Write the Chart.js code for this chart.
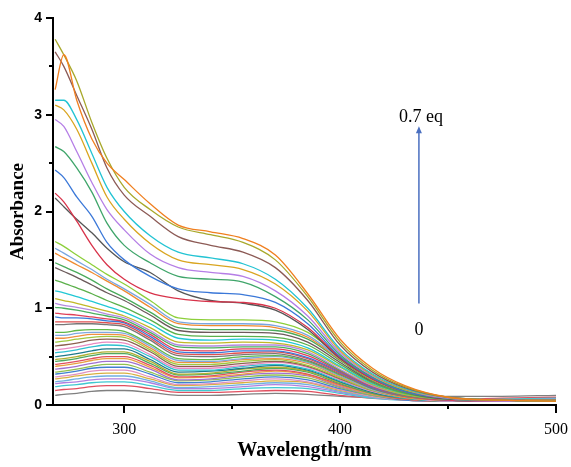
<!DOCTYPE html>
<html lang="en">
<head>
<meta charset="UTF-8">
<title>UV-Vis titration</title>
<script src="https://cdn.jsdelivr.net/npm/chart.js"></script>
<style>
    body { margin: 0; background: #fff; }
    #wrap { width: 571px; height: 467px; }
</style>
</head>
<body>
<div id="wrap"><canvas id="myChart" width="571" height="467"></canvas></div>
<script>
// wavelength grid (nm)
const wavelengths = [268, 272, 278, 285, 292, 300, 312, 325, 340, 355, 370, 385, 400, 415, 430, 450, 475, 500];

// upper spectra, top (0.7 eq) downwards
const upperSpectra = [
    [3.26, 3.62, 3.15, 2.75, 2.50, 2.33, 2.08, 1.86, 1.79, 1.72, 1.55, 1.15, 0.68, 0.38, 0.20, 0.08, 0.05, 0.04],
    [3.78, 3.62, 3.35, 2.92, 2.55, 2.25, 2.02, 1.84, 1.76, 1.68, 1.50, 1.12, 0.65, 0.36, 0.19, 0.08, 0.05, 0.04],
    [3.65, 3.50, 3.20, 2.85, 2.45, 2.17, 1.95, 1.74, 1.65, 1.58, 1.42, 1.08, 0.62, 0.34, 0.18, 0.08, 0.05, 0.04],
    [3.15, 3.15, 2.95, 2.60, 2.25, 2.00, 1.75, 1.58, 1.52, 1.46, 1.30, 1.00, 0.58, 0.32, 0.17, 0.08, 0.05, 0.04],
    [3.10, 3.05, 2.85, 2.50, 2.15, 1.92, 1.67, 1.50, 1.45, 1.40, 1.25, 0.97, 0.56, 0.31, 0.16, 0.08, 0.05, 0.04],
    [2.95, 2.88, 2.62, 2.30, 2.02, 1.81, 1.56, 1.42, 1.37, 1.33, 1.18, 0.92, 0.54, 0.30, 0.16, 0.07, 0.05, 0.04],
    [2.67, 2.62, 2.45, 2.20, 1.88, 1.65, 1.47, 1.33, 1.30, 1.27, 1.12, 0.88, 0.52, 0.29, 0.15, 0.07, 0.05, 0.04],
    [2.43, 2.35, 2.15, 1.95, 1.68, 1.50, 1.33, 1.20, 1.16, 1.14, 1.06, 0.84, 0.50, 0.28, 0.14, 0.07, 0.05, 0.04],
    [2.19, 2.10, 1.90, 1.65, 1.45, 1.30, 1.16, 1.10, 1.07, 1.06, 1.00, 0.80, 0.49, 0.27, 0.14, 0.07, 0.05, 0.04],
    [2.14, 2.05, 1.92, 1.78, 1.62, 1.48, 1.37, 1.18, 1.08, 1.05, 0.98, 0.78, 0.48, 0.27, 0.14, 0.07, 0.05, 0.04]
];

// lower spectra, top downwards to 0 eq
const lowerSpectra = [
    [1.69, 1.64, 1.55, 1.45, 1.35, 1.25, 1.08, 0.90, 0.88, 0.88, 0.86, 0.75, 0.50, 0.28, 0.15, 0.07, 0.05, 0.04],
    [1.62, 1.57, 1.49, 1.40, 1.30, 1.20, 1.04, 0.86, 0.84, 0.84, 0.82, 0.72, 0.48, 0.27, 0.14, 0.07, 0.05, 0.04],
    [1.57, 1.52, 1.45, 1.37, 1.28, 1.18, 1.01, 0.84, 0.82, 0.82, 0.80, 0.70, 0.47, 0.26, 0.14, 0.07, 0.05, 0.05],
    [1.47, 1.43, 1.37, 1.29, 1.20, 1.11, 0.96, 0.80, 0.78, 0.78, 0.77, 0.68, 0.46, 0.25, 0.13, 0.07, 0.05, 0.04],
    [1.42, 1.38, 1.32, 1.24, 1.16, 1.08, 0.93, 0.77, 0.75, 0.75, 0.74, 0.65, 0.44, 0.24, 0.13, 0.06, 0.05, 0.05],
    [1.29, 1.26, 1.21, 1.15, 1.08, 1.01, 0.88, 0.73, 0.71, 0.71, 0.70, 0.62, 0.42, 0.23, 0.12, 0.06, 0.05, 0.04],
    [1.18, 1.16, 1.12, 1.07, 1.02, 0.96, 0.84, 0.69, 0.67, 0.68, 0.67, 0.59, 0.40, 0.22, 0.12, 0.06, 0.05, 0.05],
    [1.10, 1.08, 1.05, 1.01, 0.97, 0.92, 0.80, 0.65, 0.64, 0.65, 0.64, 0.57, 0.39, 0.21, 0.11, 0.06, 0.05, 0.04],
    [1.05, 1.03, 1.01, 0.98, 0.94, 0.90, 0.77, 0.62, 0.61, 0.62, 0.62, 0.55, 0.37, 0.20, 0.11, 0.06, 0.04, 0.04],
    [1.01, 1.00, 0.98, 0.95, 0.92, 0.88, 0.75, 0.60, 0.59, 0.60, 0.60, 0.53, 0.36, 0.20, 0.10, 0.06, 0.05, 0.05],
    [0.95, 0.94, 0.93, 0.91, 0.89, 0.86, 0.73, 0.57, 0.56, 0.58, 0.58, 0.51, 0.35, 0.19, 0.10, 0.05, 0.04, 0.04],
    [0.91, 0.90, 0.90, 0.89, 0.87, 0.85, 0.71, 0.55, 0.54, 0.56, 0.56, 0.49, 0.34, 0.18, 0.10, 0.05, 0.04, 0.04],
    [0.86, 0.86, 0.86, 0.86, 0.85, 0.83, 0.69, 0.53, 0.52, 0.54, 0.55, 0.48, 0.33, 0.18, 0.09, 0.05, 0.04, 0.04],
    [0.83, 0.83, 0.84, 0.84, 0.83, 0.81, 0.67, 0.51, 0.50, 0.52, 0.53, 0.46, 0.32, 0.17, 0.09, 0.05, 0.04, 0.05],
    [0.75, 0.75, 0.77, 0.78, 0.78, 0.76, 0.63, 0.48, 0.47, 0.50, 0.51, 0.45, 0.31, 0.17, 0.09, 0.05, 0.04, 0.04],
    [0.72, 0.72, 0.74, 0.75, 0.75, 0.74, 0.61, 0.46, 0.45, 0.48, 0.50, 0.44, 0.30, 0.16, 0.09, 0.05, 0.04, 0.04],
    [0.69, 0.69, 0.71, 0.73, 0.73, 0.72, 0.59, 0.44, 0.44, 0.47, 0.48, 0.43, 0.29, 0.16, 0.08, 0.05, 0.04, 0.04],
    [0.65, 0.66, 0.68, 0.70, 0.71, 0.70, 0.57, 0.42, 0.42, 0.45, 0.47, 0.41, 0.28, 0.15, 0.08, 0.05, 0.04, 0.04],
    [0.61, 0.62, 0.64, 0.67, 0.68, 0.67, 0.55, 0.40, 0.40, 0.43, 0.45, 0.40, 0.27, 0.15, 0.08, 0.05, 0.04, 0.04],
    [0.57, 0.58, 0.60, 0.63, 0.65, 0.64, 0.52, 0.38, 0.38, 0.41, 0.44, 0.39, 0.26, 0.14, 0.08, 0.04, 0.04, 0.04],
    [0.54, 0.55, 0.57, 0.60, 0.62, 0.61, 0.50, 0.36, 0.36, 0.40, 0.42, 0.37, 0.25, 0.14, 0.07, 0.04, 0.04, 0.05],
    [0.50, 0.51, 0.53, 0.56, 0.58, 0.58, 0.47, 0.34, 0.35, 0.38, 0.41, 0.36, 0.24, 0.13, 0.07, 0.04, 0.04, 0.04],
    [0.47, 0.48, 0.50, 0.53, 0.55, 0.55, 0.45, 0.32, 0.33, 0.37, 0.39, 0.35, 0.23, 0.13, 0.07, 0.04, 0.04, 0.04],
    [0.45, 0.46, 0.48, 0.51, 0.53, 0.53, 0.43, 0.31, 0.32, 0.35, 0.38, 0.34, 0.22, 0.12, 0.07, 0.04, 0.04, 0.04],
    [0.42, 0.43, 0.45, 0.48, 0.50, 0.50, 0.41, 0.29, 0.30, 0.34, 0.36, 0.32, 0.21, 0.12, 0.06, 0.04, 0.04, 0.05],
    [0.40, 0.41, 0.43, 0.46, 0.48, 0.48, 0.39, 0.28, 0.29, 0.32, 0.35, 0.31, 0.20, 0.11, 0.06, 0.04, 0.04, 0.04],
    [0.37, 0.38, 0.40, 0.43, 0.45, 0.45, 0.37, 0.26, 0.27, 0.31, 0.33, 0.30, 0.19, 0.11, 0.06, 0.04, 0.04, 0.04],
    [0.34, 0.35, 0.37, 0.40, 0.42, 0.42, 0.34, 0.25, 0.26, 0.29, 0.31, 0.28, 0.18, 0.10, 0.06, 0.04, 0.04, 0.05],
    [0.32, 0.33, 0.35, 0.38, 0.39, 0.39, 0.32, 0.23, 0.24, 0.27, 0.29, 0.26, 0.17, 0.10, 0.05, 0.04, 0.04, 0.04],
    [0.29, 0.30, 0.32, 0.35, 0.36, 0.36, 0.29, 0.21, 0.22, 0.25, 0.27, 0.24, 0.16, 0.09, 0.05, 0.04, 0.04, 0.04],
    [0.27, 0.28, 0.30, 0.32, 0.33, 0.33, 0.27, 0.20, 0.21, 0.23, 0.25, 0.23, 0.15, 0.09, 0.05, 0.04, 0.04, 0.05],
    [0.24, 0.25, 0.27, 0.29, 0.30, 0.30, 0.25, 0.18, 0.19, 0.21, 0.23, 0.21, 0.14, 0.08, 0.05, 0.04, 0.04, 0.05],
    [0.22, 0.23, 0.24, 0.26, 0.27, 0.27, 0.23, 0.17, 0.17, 0.19, 0.21, 0.19, 0.13, 0.08, 0.05, 0.04, 0.05, 0.06],
    [0.19, 0.20, 0.21, 0.23, 0.24, 0.24, 0.20, 0.15, 0.15, 0.17, 0.18, 0.17, 0.12, 0.07, 0.05, 0.05, 0.06, 0.07],
    [0.15, 0.16, 0.17, 0.19, 0.20, 0.20, 0.17, 0.13, 0.13, 0.14, 0.15, 0.14, 0.10, 0.07, 0.06, 0.06, 0.07, 0.08],
    [0.10, 0.11, 0.12, 0.14, 0.15, 0.15, 0.13, 0.10, 0.10, 0.11, 0.12, 0.11, 0.09, 0.08, 0.08, 0.09, 0.09, 0.10]
];

const upperColors = ['#f07f1f', '#a8a82a', '#8c5a55', '#22c3d3', '#d9a520', '#b57ee6', '#3fa56a', '#3b78d8', '#d8334a', '#555555'];
const lowerColors = ['#8ccf3a', '#7aa6e0', '#f08a30', '#4aaa5a', '#6b5a5a', '#5bb04a', '#22c8d5', '#c2b828', '#b48ae0',
    '#4bb060', '#e0405a', '#3a7ad8', '#e05050', '#777777', '#60b848', '#80a8e0', '#f09040', '#a0c840', '#8c6050',
    '#e88ac0', '#30c0d0', '#1f7a8c', '#b0b030', '#50a860', '#e05060', '#e8a040', '#a070d0', '#90c050', '#4080d0',
    '#e090c0', '#d8b040', '#70b0e0', '#b080e0', '#40c8d0', '#e05060', '#808080'];

const xTickValues = [300, 350, 400, 450, 500];
const yTickValues = [0, 0.5, 1, 1.5, 2, 2.5, 3, 3.5, 4];

function makeSet(values, color) {
    return {
        data: values.map((v, i) => ({ x: wavelengths[i], y: v })),
        borderColor: color,
        borderWidth: 1.3,
        pointRadius: 0,
        fill: false,
        cubicInterpolationMode: 'monotone'
    };
}

const datasets = [];
upperSpectra.forEach((s, i) => datasets.push(makeSet(s, upperColors[i])));
lowerSpectra.forEach((s, i) => datasets.push(makeSet(s, lowerColors[i])));

// tick marks (major/minor) plus the titration arrow
const extras = {
    id: 'extras',
    afterDraw(chart) {
        const { ctx, scales: { x, y } } = chart;
        ctx.save();
        ctx.strokeStyle = '#000';
        ctx.lineWidth = 2;
        x.ticks.forEach(t => {
            const px = Math.round(x.getPixelForValue(t.value));
            const len = t.value % 100 === 0 ? 8 : 4;
            ctx.beginPath(); ctx.moveTo(px, y.bottom); ctx.lineTo(px, y.bottom + len); ctx.stroke();
        });
        y.ticks.forEach(t => {
            const py = Math.round(y.getPixelForValue(t.value));
            const len = Number.isInteger(t.value) ? 7 : 4;
            ctx.beginPath(); ctx.moveTo(x.left, py); ctx.lineTo(x.left - len, py); ctx.stroke();
        });

        // arrow from 0 to 0.7 eq
        const ax = x.getPixelForValue(436.5);
        const y0 = y.getPixelForValue(1.05);
        const y1 = y.getPixelForValue(2.88);
        ctx.strokeStyle = '#4a6fc0';
        ctx.fillStyle = '#4a6fc0';
        ctx.lineWidth = 1.5;
        ctx.beginPath(); ctx.moveTo(ax, y0); ctx.lineTo(ax, y1 + 5); ctx.stroke();
        ctx.beginPath(); ctx.moveTo(ax, y1); ctx.lineTo(ax - 3, y1 + 7); ctx.lineTo(ax + 3, y1 + 7); ctx.closePath(); ctx.fill();

        ctx.fillStyle = '#000';
        ctx.font = '18px "Liberation Serif"';
        ctx.textAlign = 'center';
        ctx.textBaseline = 'middle';
        ctx.fillText('0.7 eq', ax + 2, y.getPixelForValue(2.97));
        ctx.fillText('0', ax, y.getPixelForValue(0.77));
        ctx.restore();
    }
};

const ctx = document.getElementById('myChart').getContext('2d');
new Chart(ctx, {
    type: 'line',
    data: { datasets },
    plugins: [extras],
    options: {
        responsive: false,
        devicePixelRatio: 1,
        animation: false,
        layout: { padding: { top: 18, right: 15, left: 0, bottom: 0 } },
        plugins: { legend: { display: false }, tooltip: { enabled: false } },
        scales: {
            x: {
                type: 'linear',
                min: 267,
                max: 500,
                afterBuildTicks: s => { s.ticks = xTickValues.map(v => ({ value: v })); },
                afterFit: s => { s.height = 62; s.paddingLeft = 0; s.paddingRight = 0; },
                grid: { drawOnChartArea: false, drawTicks: false },
                border: { color: '#000', width: 2 },
                ticks: {
                    padding: 15,
                    color: '#000',
                    font: { family: 'Liberation Serif', size: 16 },
                    callback: v => (v % 100 === 0 ? String(v) : '')
                },
                title: {
                    display: true,
                    text: 'Wavelength/nm',
                    color: '#000',
                    font: { family: 'Liberation Serif', size: 20, weight: 'bold' },
                    padding: { top: 0, bottom: 4 }
                }
            },
            y: {
                min: 0,
                max: 4,
                afterBuildTicks: s => { s.ticks = yTickValues.map(v => ({ value: v })); },
                afterFit: s => { s.width = 53; s.paddingTop = 0; s.paddingBottom = 0; },
                grid: { drawOnChartArea: false, drawTicks: false },
                border: { color: '#000', width: 2 },
                ticks: {
                    padding: 11,
                    color: '#000',
                    font: { family: 'Liberation Sans', size: 14, weight: 'bold' },
                    callback: v => (Number.isInteger(v) ? String(v) : '')
                },
                title: {
                    display: true,
                    text: 'Absorbance',
                    color: '#000',
                    font: { family: 'Liberation Serif', size: 19, weight: 'bold' },
                    padding: { top: 7, bottom: 0 }
                }
            }
        }
    }
});
</script>
</body>
</html>
